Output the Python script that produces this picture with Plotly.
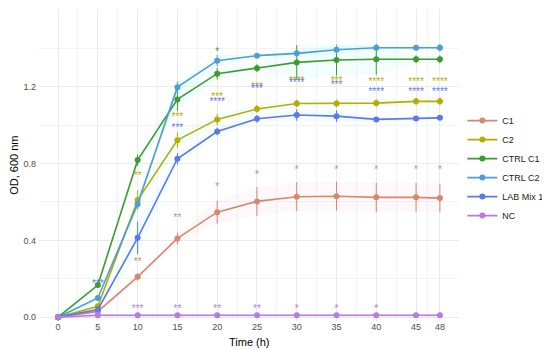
import plotly.graph_objects as go

time_h = [0, 5, 10, 15, 20, 25, 30, 35, 40, 45, 48]

c1 = [0, 0.03, 0.21, 0.41, 0.547, 0.603, 0.627, 0.63, 0.624, 0.624, 0.62]
c1_err = [0, 0.005, 0.02, 0.03, 0.06, 0.075, 0.075, 0.075, 0.075, 0.075, 0.075]
c2 = [0, 0.057, 0.61, 0.922, 1.03, 1.084, 1.113, 1.113, 1.115, 1.124, 1.124]
c2_err = [0, 0.005, 0.05, 0.04, 0.03, 0.02, 0.02, 0.02, 0.02, 0.02, 0.02]
ctrl_c1 = [0, 0.167, 0.818, 1.134, 1.268, 1.297, 1.327, 1.339, 1.343, 1.343, 1.343]
ctrl_c1_err = [0, 0.01, 0.03, 0.06, 0.03, 0.02, 0.09, 0.08, 0.08, 0.02, 0.02]
ctrl_c2 = [0, 0.10, 0.59, 1.198, 1.336, 1.362, 1.374, 1.393, 1.403, 1.403, 1.403]
ctrl_c2_err = [0, 0.01, 0.02, 0.03, 0.03, 0.01, 0.01, 0.025, 0.01, 0.01, 0.02]
lab_mix = [0, 0.04, 0.413, 0.825, 0.967, 1.033, 1.053, 1.047, 1.03, 1.035, 1.038]
lab_mix_err = [0, 0.005, 0.085, 0.03, 0.02, 0.02, 0.03, 0.03, 0.01, 0.01, 0.01]
nc = [0, 0.01, 0.01, 0.01, 0.01, 0.01, 0.01, 0.01, 0.01, 0.01, 0.01]
nc_err = [0, 0.003, 0.003, 0.003, 0.003, 0.003, 0.003, 0.003, 0.003, 0.003, 0.003]

series_names = ["C1", "C2", "CTRL C1", "CTRL C2", "LAB Mix 1", "NC"]
series_values = [c1, c2, ctrl_c1, ctrl_c2, lab_mix, nc]
series_errors = [c1_err, c2_err, ctrl_c1_err, ctrl_c2_err, lab_mix_err, nc_err]
series_colors = ["#D4896E", "#B5AD00", "#3D9B2F", "#4F9ECF", "#5B78EC", "#B77BE6"]
series_fills = ["rgba(245,150,200,0.07)", "rgba(150,235,240,0.10)", "rgba(150,240,240,0.10)",
                "rgba(150,240,240,0.14)", "rgba(150,240,240,0.10)", "rgba(245,150,230,0.10)"]

# significance labels (time, y position, label) per series
c1_sig_t = [10, 15, 20, 25, 30, 35, 40, 45, 48]
c1_sig_y = [0.287, 0.515, 0.674, 0.74, 0.762, 0.762, 0.762, 0.762, 0.762]
c1_sig_l = ["**", "**", "*", "*", "*", "*", "*", "*", "*"]
c2_sig_t = [10, 15, 20, 25, 30, 35, 40, 45, 48]
c2_sig_y = [0.735, 1.04, 1.143, 1.195, 1.23, 1.23, 1.223, 1.223, 1.223]
c2_sig_l = ["**", "***", "***", "***", "****", "***", "****", "****", "****"]
ctrl_c1_sig_t = [20]
ctrl_c1_sig_y = [1.38]
ctrl_c1_sig_l = ["*"]
lab_sig_t = [5, 15, 20, 25, 30, 35, 40, 45, 48]
lab_sig_y = [0.172, 0.985, 1.12, 1.185, 1.215, 1.205, 1.17, 1.17, 1.17]
lab_sig_l = ["***", "***", "****", "***", "****", "***", "****", "****", "****"]
nc_sig_t = [10, 15, 20, 25, 30, 35, 40]
nc_sig_y = [0.04, 0.04, 0.04, 0.04, 0.04, 0.04, 0.04]
nc_sig_l = ["***", "**", "**", "**", "*", "*", "*"]

sig_sets = [
    (c1_sig_t, c1_sig_y, c1_sig_l, series_colors[0]),
    (c2_sig_t, c2_sig_y, c2_sig_l, series_colors[1]),
    (ctrl_c1_sig_t, ctrl_c1_sig_y, ctrl_c1_sig_l, series_colors[2]),
    (lab_sig_t, lab_sig_y, lab_sig_l, series_colors[4]),
    (nc_sig_t, nc_sig_y, nc_sig_l, series_colors[5]),
]

x_ticks = [0, 5, 10, 15, 20, 25, 30, 35, 40, 45, 48]
x_minor = [2.5, 7.5, 12.5, 17.5, 22.5, 27.5, 32.5, 37.5, 42.5, 46.5]

fig = go.Figure()

# faint ribbons
for vals, errs, fc in zip(series_values, series_errors, series_fills):
    lo = [v - max(e, 0.012) for v, e in zip(vals, errs)]
    hi = [v + max(e, 0.012) for v, e in zip(vals, errs)]
    fig.add_trace(go.Scatter(x=time_h, y=hi, mode="lines", line=dict(width=0),
                             showlegend=False, hoverinfo="skip"))
    fig.add_trace(go.Scatter(x=time_h, y=lo, mode="lines", line=dict(width=0),
                             fill="tonexty", fillcolor=fc, showlegend=False, hoverinfo="skip"))

for name, vals, errs, col in zip(series_names, series_values, series_errors, series_colors):
    fig.add_trace(go.Scatter(
        x=time_h, y=vals, name=name, mode="lines+markers",
        line=dict(color=col, width=1.6),
        marker=dict(color=col, size=6),
        error_y=dict(type="data", array=errs, visible=True, color=col, thickness=1, width=0),
    ))

for st, sy, sl, col in sig_sets:
    fig.add_trace(go.Scatter(
        x=st, y=sy, text=sl, mode="text", showlegend=False, hoverinfo="skip",
        textfont=dict(color=col, size=10, family="Liberation Sans"),
        textposition="middle center",
    ))

# the page body adds an ~8px offset, so the figure is 542x342
fig.update_layout(
    width=542, height=342,
    margin=dict(l=31, r=91, t=1, b=29, autoexpand=False),
    paper_bgcolor="white", plot_bgcolor="white",
    font=dict(family="Liberation Sans", size=10, color="#4d4d4d"),
    legend=dict(x=1.008, y=0.49, xanchor="left", yanchor="middle",
                font=dict(size=9, color="#1a1a1a"), itemwidth=30, traceorder="normal",
                tracegroupgap=0, bgcolor="rgba(0,0,0,0)", borderwidth=0),
    showlegend=True,
    annotations=[
        dict(text="Time (h)", x=0.5, y=-0.042, xref="paper", yref="paper",
             xanchor="center", yanchor="top", showarrow=False,
             font=dict(size=11, color="#000000")),
        dict(text="OD, 600 nm", x=-0.041, y=0.5, xref="paper", yref="paper",
             xanchor="right", yanchor="middle", showarrow=False, textangle=-90,
             font=dict(size=11, color="#000000")),
    ],
)
fig.update_xaxes(
    range=[-2.4, 50.4], tickmode="array", tickvals=x_ticks, automargin=False,
    ticktext=[str(t) for t in x_ticks], ticklabelstandoff=-1,
    showgrid=True, gridcolor="#ebebeb", gridwidth=1, zeroline=False, showline=False,
    ticks="", tickfont=dict(size=9, color="#4d4d4d"),
    minor=dict(tickmode="array", tickvals=x_minor, showgrid=True, gridcolor="#f4f4f4", gridwidth=1),
)
fig.update_yaxes(
    range=[-0.02, 1.605], tickmode="array", tickvals=[0, 0.4, 0.8, 1.2, 1.6], automargin=False,
    ticktext=["0.0", "0.4", "0.8", "1.2", "1.6"], ticklabelstandoff=2,
    showgrid=True, gridcolor="#ebebeb", gridwidth=1, zeroline=False, showline=False,
    ticks="", tickfont=dict(size=9, color="#4d4d4d"),
    minor=dict(tickmode="array", tickvals=[0.2, 0.6, 1.0, 1.4], showgrid=True, gridcolor="#f4f4f4", gridwidth=1),
)

fig.write_html("out.html")
